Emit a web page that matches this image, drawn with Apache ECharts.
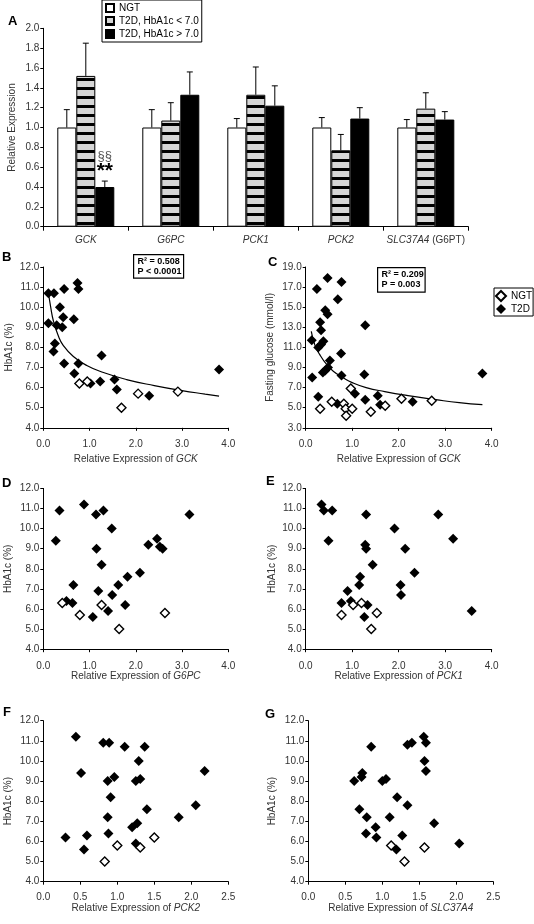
<!DOCTYPE html>
<html><head><meta charset="utf-8">
<script src="https://cdn.jsdelivr.net/npm/echarts@6/dist/echarts.min.js"></script>
<style>html,body{margin:0;padding:0;background:#fff}#c{width:534px;height:924px}</style>
</head><body><div id="c"></div>
<script>
// ---------- Panel A data ----------
const categories = ['GCK','G6PC','PCK1','PCK2','SLC37A4'];
const barNames = ['NGT','T2D, HbA1c < 7.0','T2D, HbA1c > 7.0'];
const ngtMean   = [1.00,1.00,1.00,1.00,1.00];
const ngtUpper  = [1.18,1.18,1.09,1.10,1.08];
const lowMean   = [1.52,1.07,1.33,0.77,1.19];
const lowUpper  = [1.85,1.25,1.61,0.93,1.35];
const highMean  = [0.40,1.33,1.22,1.09,1.08];
const highUpper = [0.46,1.56,1.42,1.20,1.16];
const aTicks = [0.0,0.2,0.4,0.6,0.8,1.0,1.2,1.4,1.6,1.8,2.0];

// ---------- Scatter tick ranges ----------
const hbTicks = [4,5,6,7,8,9,10,11,12];
const fgTicks = [3,5,7,9,11,13,15,17,19];
const x4Ticks = [0,1,2,3,4];
const x25Ticks = [0,0.5,1.0,1.5,2.0,2.5];

// ---------- Panel B: HbA1c vs GCK ----------
const bT2D = [[0.11,10.7],[0.23,10.7],[0.45,10.9],[0.74,11.2],[0.76,10.9],[0.36,10.0],[0.43,9.5],[0.66,9.4],[0.11,9.2],[0.29,9.1],[0.41,9.0],[0.25,8.2],[0.22,7.8],[0.45,7.2],[0.76,7.2],[1.26,7.6],[0.67,6.7],[1.02,6.2],[1.23,6.3],[1.54,6.4],[1.59,5.9],[2.29,5.6],[3.80,6.9]];
const bNGT = [[0.78,6.2],[0.95,6.3],[1.69,5.0],[2.05,5.7],[2.91,5.8]];
const bFit = [[0.11,10.75],[0.16,10.0],[0.22,9.3],[0.32,8.6],[0.43,8.1],[0.65,7.55],[0.94,7.1],[1.3,6.75],[1.8,6.4],[2.4,6.1],[3.0,5.85],[3.5,5.68],[3.8,5.58]];

// ---------- Panel C: fasting glucose vs GCK ----------
const cT2D = [[0.24,16.8],[0.47,17.9],[0.77,17.5],[0.69,15.8],[0.42,14.7],[0.47,14.3],[0.31,13.5],[0.33,12.7],[1.28,13.2],[0.13,11.7],[0.38,11.6],[0.27,11.0],[0.33,11.3],[0.76,10.4],[0.52,9.7],[0.48,9.0],[0.42,8.7],[0.37,8.5],[0.14,8.0],[0.77,8.2],[1.26,8.3],[3.80,8.4],[0.27,6.1],[0.68,5.4],[1.06,6.4],[1.28,5.8],[1.55,6.2],[1.60,5.3],[2.30,5.6]];
const cNGT = [[0.31,4.9],[0.56,5.6],[0.82,5.4],[0.86,4.9],[0.87,4.2],[1.00,4.9],[0.97,6.9],[1.40,4.6],[1.71,5.2],[2.06,5.9],[2.71,5.7]];
const cFit = [[0.12,12.6],[0.2,11.2],[0.3,10.3],[0.45,9.3],[0.6,8.6],[0.8,8.0],[1.0,7.5],[1.3,7.0],[1.7,6.6],[2.2,6.2],[2.8,5.8],[3.3,5.5],[3.8,5.3]];

// ---------- Panel D: HbA1c vs G6PC ----------
const dT2D = [[0.35,10.9],[0.27,9.4],[0.88,11.2],[1.14,10.7],[1.30,10.9],[1.48,10.0],[1.15,9.0],[1.26,8.2],[0.65,7.2],[3.16,10.7],[2.27,9.2],[2.46,9.5],[2.52,9.1],[2.58,9.0],[2.09,7.8],[1.82,7.6],[1.62,7.2],[1.19,6.9],[1.49,6.7],[0.50,6.4],[0.63,6.3],[1.07,5.6],[1.40,5.9],[1.77,6.2]];
const dNGT = [[0.41,6.3],[0.79,5.7],[1.26,6.2],[1.64,5.0],[2.63,5.8]];

// ---------- Panel E: HbA1c vs PCK1 ----------
const eT2D = [[0.34,11.2],[0.39,10.9],[0.57,10.9],[1.30,10.7],[2.85,10.7],[1.91,10.0],[3.17,9.5],[0.49,9.4],[1.28,9.2],[1.30,9.0],[2.14,9.0],[1.44,8.2],[2.34,7.8],[1.17,7.6],[1.15,7.2],[2.04,7.2],[2.05,6.7],[0.90,6.9],[0.77,6.3],[0.97,6.4],[1.33,6.2],[1.26,5.6],[3.57,5.9]];
const eNGT = [[1.20,6.3],[1.02,6.2],[0.77,5.7],[1.53,5.8],[1.41,5.0]];

// ---------- Panel F: HbA1c vs PCK2 ----------
const fT2D = [[0.44,11.2],[0.81,10.9],[0.89,10.9],[1.10,10.7],[1.37,10.7],[1.29,10.0],[0.51,9.4],[0.96,9.2],[0.87,9.0],[1.25,9.0],[1.31,9.1],[0.91,8.2],[2.18,9.5],[2.06,7.8],[1.40,7.6],[1.83,7.2],[0.87,7.2],[1.20,6.7],[1.27,6.9],[0.88,6.4],[0.30,6.2],[0.59,6.3],[0.55,5.6],[1.25,5.9]];
const fNGT = [[1.00,5.8],[1.31,5.7],[1.50,6.2],[0.83,5.0]];

// ---------- Panel G: HbA1c vs SLC37A4 ----------
const gT2D = [[1.56,11.2],[1.59,10.9],[1.40,10.9],[1.34,10.8],[0.85,10.7],[1.57,10.0],[1.59,9.5],[0.73,9.4],[0.72,9.2],[0.62,9.0],[1.00,9.0],[1.05,9.1],[1.20,8.2],[1.34,7.8],[0.69,7.6],[0.79,7.2],[1.10,7.2],[1.70,6.9],[0.91,6.7],[0.78,6.4],[0.92,6.2],[1.27,6.3],[1.19,5.6],[2.04,5.9]];
const gNGT = [[1.12,5.8],[1.57,5.7],[1.30,5.0]];

// ---------- Styling helpers ----------
const FONT = 'Liberation Sans, Arial, sans-serif';
const LBL = '#333';
const FS = 10;

const pat = document.createElement('canvas');
pat.width = 4; pat.height = 9;
(function(){const g = pat.getContext('2d'); g.fillStyle='#d6d6d6'; g.fillRect(0,0,4,9); g.fillStyle='#000'; g.fillRect(0,6,4,3);})();

function xVal(gi, ticks, name, margin, gap){
  return {type:'value', gridIndex:gi, min:ticks[0], max:ticks[ticks.length-1], interval:ticks[1]-ticks[0],
    axisLine:{show:true,onZero:false,lineStyle:{color:'#000',width:1}},
    axisTick:{show:true,length:3,lineStyle:{color:'#000'}},
    splitLine:{show:false},
    axisLabel:{formatter:v=>v.toFixed(1),color:LBL,fontSize:FS,fontFamily:FONT,margin:margin},
    name:name, nameLocation:'middle', nameGap:gap, nameMoveOverlap:false,
    nameTextStyle:{color:LBL,fontSize:FS,fontFamily:FONT,rich:{i:{fontStyle:'italic',color:LBL,fontSize:FS,fontFamily:FONT}}}};
}
function yVal(gi, ticks, name, gap){
  return {type:'value', gridIndex:gi, min:ticks[0], max:ticks[ticks.length-1], interval:ticks[1]-ticks[0],
    axisLine:{show:true,onZero:false,lineStyle:{color:'#000',width:1}},
    axisTick:{show:true,length:3,lineStyle:{color:'#000'}},
    splitLine:{show:false},
    axisLabel:{formatter:v=>v.toFixed(1),color:LBL,fontSize:FS,fontFamily:FONT,margin:4},
    name:name, nameLocation:'middle', nameGap:gap, nameMoveOverlap:false,
    nameTextStyle:{color:LBL,fontSize:FS,fontFamily:FONT}};
}
function t2d(gi, data){
  return {type:'scatter', name:'T2D', xAxisIndex:gi, yAxisIndex:gi, data:data, symbol:'diamond', symbolSize:10,
    itemStyle:{color:'#000',opacity:1}, z:3};
}
function ngt(gi, data){
  return {type:'scatter', name:'NGT ', xAxisIndex:gi, yAxisIndex:gi, data:data, symbol:'diamond', symbolSize:9,
    itemStyle:{color:'#fff',borderColor:'#000',borderWidth:1.4,opacity:1}, z:4};
}
function fit(gi, data){
  return {type:'line', xAxisIndex:gi, yAxisIndex:gi, data:data, smooth:0.5, symbol:'none', showSymbol:false,
    lineStyle:{color:'#000',width:1.2}, z:2, silent:true};
}
function errSeries(means, uppers, off){
  return {type:'custom', xAxisIndex:0, yAxisIndex:0, silent:true, z:5,
    data: means.map((m,i)=>[i,m,uppers[i]]),
    renderItem:(p,api)=>{
      const c = api.value(0);
      const a = api.coord([c, api.value(1)]);
      const b = api.coord([c, api.value(2)]);
      const x = a[0] + off*19;
      return {type:'group', children:[
        {type:'line', shape:{x1:x,y1:a[1],x2:x,y2:b[1]}, style:{stroke:'#000',lineWidth:1}},
        {type:'line', shape:{x1:x-3,y1:b[1],x2:x+3,y2:b[1]}, style:{stroke:'#000',lineWidth:1}}
      ]};
    }};
}
function letter(t, left, top){
  return {type:'text', left:left, top:top, style:{text:t, font:'bold 13px '+FONT, fill:'#000'}};
}
function statBox(x, y, w, h, l1, l2){
  return {type:'group', left:x, top:y, children:[
    {type:'rect', shape:{x:0,y:0,width:w,height:h}, style:{fill:'#fff',stroke:'#000',lineWidth:1.2}},
    {type:'text', x:4, y:2.5, style:{text:l1, font:'bold 9px '+FONT, fill:'#000'}},
    {type:'text', x:4, y:12.5, style:{text:l2, font:'bold 9px '+FONT, fill:'#000'}}
  ]};
}

const highData = highMean.map((v,i)=> i===0 ? {value:v, label:{show:true, position:'top', distance:8,
  formatter:'{s|§§}\n{a|**}', rich:{s:{color:'#555',fontSize:13,fontFamily:FONT,lineHeight:13,align:'center'},
  a:{color:'#000',fontSize:21,fontWeight:'bold',fontFamily:FONT,lineHeight:16,align:'center'}}}} : v);

const G = (l,t,w,h)=>({left:l, top:t, width:w, height:h, containLabel:false, outerBoundsMode:'none'});

const option = {
  animation:false,
  backgroundColor:'#fff',
  textStyle:{fontFamily:FONT},
  grid:[
    G(43.3, 28.3, 425, 198.4),
    G(43.3, 267, 185, 160.8),
    G(305.7, 267, 186, 160.8),
    G(43.3, 488.4, 185, 160.8),
    G(305.7, 488.4, 186, 160.8),
    G(43.3, 720.7, 185, 161),
    G(308.3, 720.7, 185, 161)
  ],
  legend:[
    {data:barNames, orient:'vertical', left:102, top:0, itemWidth:8, itemHeight:8, itemGap:3, icon:'rect',
      padding:[3,3,3,3], borderColor:'#000', borderWidth:1, backgroundColor:'#fff',
      textStyle:{color:'#000',fontSize:FS,fontFamily:FONT,lineHeight:10}, selectedMode:false},
    {data:['NGT ','T2D'], orient:'vertical', left:494, top:288, itemWidth:10, itemHeight:10, itemGap:2,
      padding:[2,1,2,1], borderColor:'#000', borderWidth:1, backgroundColor:'#fff', formatter:n=>n.trim(),
      textStyle:{color:'#000',fontSize:FS,fontFamily:FONT,lineHeight:10}, selectedMode:false}
  ],
  xAxis:[
    {type:'category', gridIndex:0, data:categories,
      axisLine:{lineStyle:{color:'#000'}}, axisTick:{show:true,length:4,lineStyle:{color:'#000'}},
      axisLabel:{interval:0, color:LBL, fontSize:FS, fontFamily:FONT, margin:9,
        formatter:v=> v==='SLC37A4' ? '{i|SLC37A4} (G6PT)' : '{i|'+v+'}',
        rich:{i:{fontStyle:'italic',color:LBL,fontSize:FS,fontFamily:FONT}}}},
    xVal(1, x4Ticks, 'Relative Expression of {i|GCK}', 11, 26),
    xVal(2, x4Ticks, 'Relative Expression of {i|GCK}', 11, 26),
    xVal(3, x4Ticks, 'Relative Expression of {i|G6PC}', 12, 22),
    xVal(4, x4Ticks, 'Relative Expression of {i|PCK1}', 12, 22),
    xVal(5, x25Ticks, 'Relative Expression of {i|PCK2}', 11, 21.5),
    xVal(6, x25Ticks, 'Relative Expression of {i|SLC37A4}', 11, 21.5)
  ],
  yAxis:[
    yVal(0, aTicks, 'Relative Expression', 26.3),
    yVal(1, hbTicks, 'HbA1c (%)', 29.3),
    yVal(2, fgTicks, 'Fasting glucose (mmol/l)', 30.7),
    yVal(3, hbTicks, 'HbA1c (%)', 29.8),
    yVal(4, hbTicks, 'HbA1c (%)', 28.7),
    yVal(5, hbTicks, 'HbA1c (%)', 30.3),
    yVal(6, hbTicks, 'HbA1c (%)', 31.3)
  ],
  series:[
    {type:'bar', name:barNames[0], xAxisIndex:0, yAxisIndex:0, data:ngtMean, barWidth:19, barGap:'0%',
      itemStyle:{color:'#fff',borderColor:'#000',borderWidth:1}},
    {type:'bar', name:barNames[1], xAxisIndex:0, yAxisIndex:0, data:lowMean, barWidth:19, barGap:'0%',
      itemStyle:{color:{image:pat, repeat:'repeat'},borderColor:'#000',borderWidth:1}},
    {type:'bar', name:barNames[2], xAxisIndex:0, yAxisIndex:0, data:highData, barWidth:19, barGap:'0%',
      itemStyle:{color:'#000',borderColor:'#000',borderWidth:1}},
    errSeries(ngtMean, ngtUpper, -1),
    errSeries(lowMean, lowUpper, 0),
    errSeries(highMean, highUpper, 1),
    fit(1, bFit), t2d(1, bT2D), ngt(1, bNGT),
    fit(2, cFit), t2d(2, cT2D), ngt(2, cNGT),
    t2d(3, dT2D), ngt(3, dNGT),
    t2d(4, eT2D), ngt(4, eNGT),
    t2d(5, fT2D), ngt(5, fNGT),
    t2d(6, gT2D), ngt(6, gNGT)
  ],
  graphic:[
    letter('A', 8, 15),
    letter('B', 2, 251),
    letter('C', 268, 256),
    letter('D', 2, 477),
    letter('E', 266, 475),
    letter('F', 3, 706),
    letter('G', 265, 708),
    statBox(133, 254, 50, 23.5, 'R² = 0.508', 'P < 0.0001'),
    statBox(377, 267, 47.5, 24.5, 'R² = 0.209', 'P = 0.003')
  ]
};
const chart = echarts.init(document.getElementById('c'), null, {renderer:'canvas'});
chart.setOption(option);
</script>
</body></html>
